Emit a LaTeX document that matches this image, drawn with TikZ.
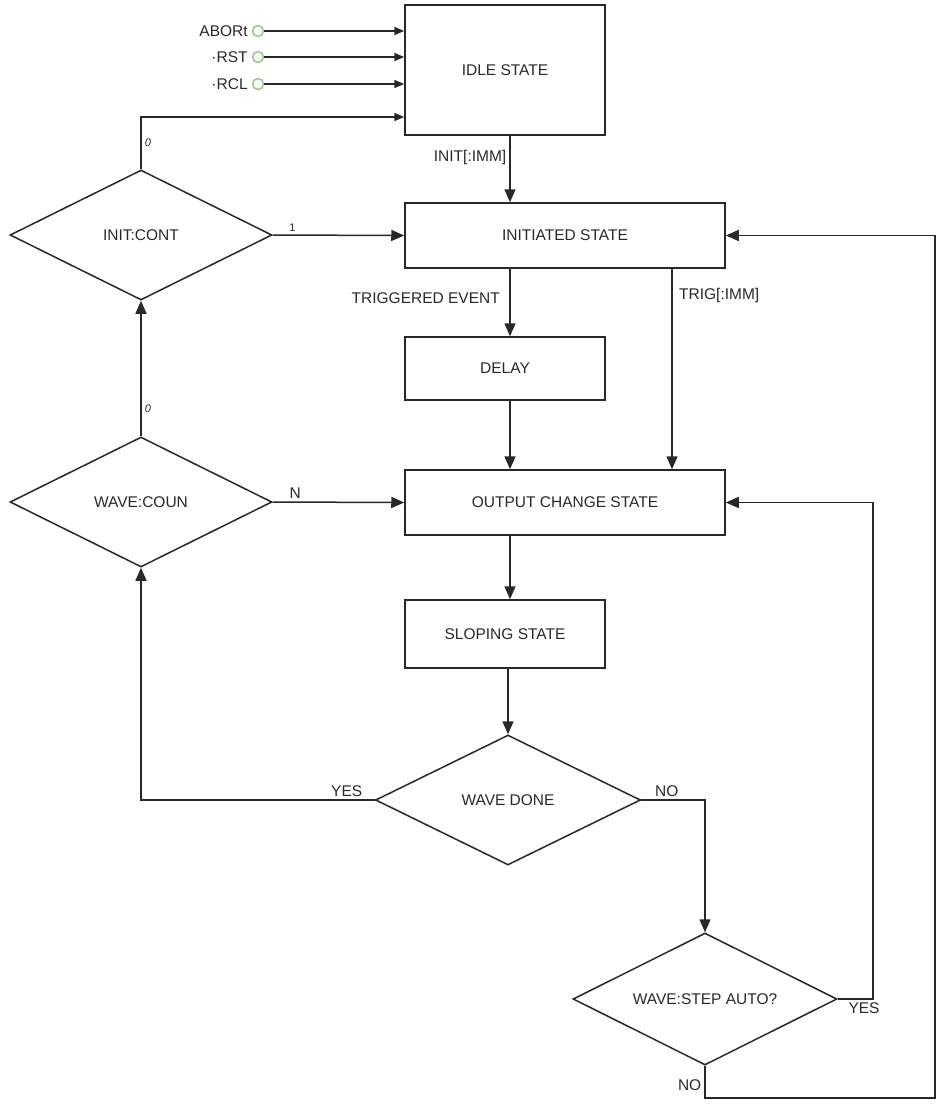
\documentclass[tikz,border=0pt]{standalone}
\usepackage{fontspec}
\setmainfont{Liberation Sans}
\usetikzlibrary{arrows.meta,positioning,shapes.geometric}

\definecolor{lineink}{RGB}{40,40,40}
\definecolor{portgreen}{RGB}{150,190,140}

\tikzset{
  statebox/.style={draw=lineink,line width=1.5pt,rectangle,inner sep=0pt,text=lineink},
  decision/.style={draw=lineink,line width=1.5pt,diamond,aspect=2,inner sep=0pt,
    minimum width=262pt,minimum height=130pt,text=lineink},
  flow/.style={draw=lineink,line width=1.5pt,-{Triangle[length=13pt,width=11pt]}},
  inflow/.style={draw=lineink,line width=1.5pt,-{Triangle[length=10pt,width=8pt]}},
  port/.style={circle,draw=portgreen,fill=green!8,line width=1.3pt,inner sep=0pt,minimum size=11pt},
  edgelbl/.style={text=lineink,inner sep=3pt}
}

\begin{document}
\begin{tikzpicture}[x=1pt,y=-1pt,font=\fontsize{15.5}{17}\selectfont]
        \useasboundingbox (0,0) rectangle (943,1106);
        % states
        \node[statebox,minimum width=200pt,minimum height=130pt] (idle) at (505,70) {IDLE STATE};
        \node[statebox,minimum width=320pt,minimum height=65pt] (init) at (565,235.5) {INITIATED STATE};
        \node[statebox,minimum width=200pt,minimum height=63pt] (delay) at (505,368.5) {DELAY};
        \node[statebox,minimum width=320pt,minimum height=65pt] (out) at (565,502.5) {OUTPUT CHANGE STATE};
        \node[statebox,minimum width=200pt,minimum height=68pt] (slope) at (505,634) {SLOPING STATE};
        % decisions
        \node[decision] (initcont) at (141,235) {INIT:CONT};
        \node[decision] (wavecoun) at (141,502) {WAVE:COUN};
        \node[decision,minimum width=265pt] (wavedone) at (508,800) {WAVE DONE};
        \node[decision,minimum width=264pt,minimum height=132pt] (stepauto) at (705,999) {WAVE:STEP AUTO?};
        % helper columns
        \coordinate (midx) at (510,0);
        \coordinate (trigx) at (672,0);
        \coordinate (initup) at (141,117);
        \coordinate (noturn) at (935,1098);
        % reset inputs
        \foreach \nm/\txt/\yy in {abort/ABORt/31,rst/·RST/57,rcl/·RCL/84}{
          \node[port] (\nm) at (258,\yy) {};
          \node[edgelbl,left=1pt of \nm] (\nm lbl) {\txt};
          \draw[inflow] (\nm) -- (\nm -| idle.west);
        }
        % INIT:CONT loop
        \draw[inflow] (initcont.north) -- node[edgelbl,right,font=\fontsize{11}{12}\selectfont\itshape]{0} (initup) -- (initup -| idle.west);
        \draw[flow] (initcont.east) -- node[edgelbl,above,pos=0.15,font=\fontsize{11}{12}\selectfont]{1} (init.west);
        \draw[flow] (idle.south -| midx) -- node[edgelbl,left,pos=0.33]{INIT[:IMM]} (init.north -| midx);
        % trigger
        \draw[flow] (init.south -| midx) -- (delay.north -| midx);
        \node[edgelbl,anchor=east] (trigev) at (503,298) {TRIGGERED EVENT};
        \draw[flow] (init.south -| trigx) -- (out.north -| trigx);
        \node[edgelbl,anchor=west] (trigimm) at (676,295) {TRIG[:IMM]};
        \draw[flow] (delay.south -| midx) -- (out.north -| midx);
        % count check
        \draw[flow] (wavecoun.east) -- node[edgelbl,above,pos=0.17]{N} (out.west);
        \draw[flow] (wavecoun.north) -- node[edgelbl,right,pos=0.2,font=\fontsize{11}{12}\selectfont\itshape]{0} (initcont.south);
        % sloping and done
        \draw[flow] (out.south -| midx) -- (slope.north -| midx);
        \draw[flow] (slope.south -| wavedone.north) -- (wavedone.north);
        \draw[flow] (wavedone.west) -| node[edgelbl,above,pos=0.06]{YES} (wavecoun.south);
        \draw[flow] (wavedone.east) -| node[edgelbl,above,pos=0.2]{NO} (stepauto.north);
        % step auto
        \draw[flow] (stepauto.east) -- node[edgelbl,below,pos=0.75]{YES} ++(35,0) |- (out.east);
        \draw[flow] (stepauto.south) -- node[edgelbl,left,pos=0.6]{NO} (stepauto.south |- noturn) -- (noturn) |- (init.east);
      \end{tikzpicture}
\end{document}
